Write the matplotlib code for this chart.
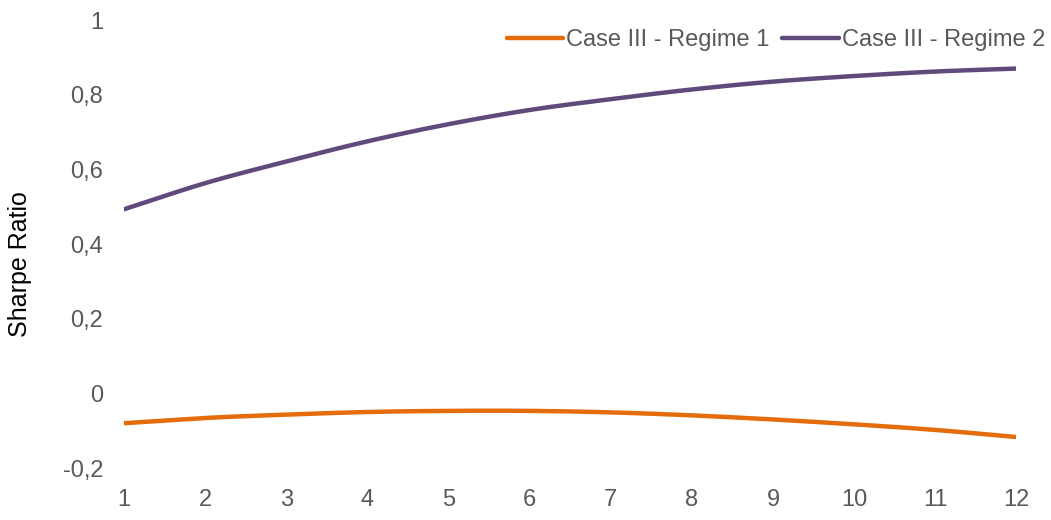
import matplotlib.pyplot as plt
import numpy as np
from matplotlib.ticker import FuncFormatter

plt.rcParams['font.family'] = ['Liberation Sans', 'DejaVu Sans']

months = np.arange(1, 13)
regime1 = [-0.080, -0.066, -0.057, -0.050, -0.047, -0.047,
           -0.051, -0.059, -0.070, -0.083, -0.098, -0.117]
regime2 = [0.493, 0.563, 0.621, 0.675, 0.721, 0.759,
           0.788, 0.814, 0.835, 0.850, 0.862, 0.870]

ORANGE = '#E46C0A'
PURPLE = '#604A7B'
GREY = '#595959'


def smooth(x, y, n=20):
    # Catmull-Rom curve through the points, like a smoothed spreadsheet line
    x = np.asarray(x, float)
    y = np.asarray(y, float)
    px = np.concatenate([[2*x[0] - x[1]], x, [2*x[-1] - x[-2]]])
    py = np.concatenate([[2*y[0] - y[1]], y, [2*y[-1] - y[-2]]])
    t = np.linspace(0, 1, n, endpoint=False)
    xs, ys = [], []
    for i in range(1, len(px) - 2):
        for p, out in ((px, xs), (py, ys)):
            p0, p1, p2, p3 = p[i-1], p[i], p[i+1], p[i+2]
            out.extend(0.5*((2*p1) + (-p0 + p2)*t
                            + (2*p0 - 5*p1 + 4*p2 - p3)*t**2
                            + (-p0 + 3*p1 - 3*p2 + p3)*t**3))
    xs.append(x[-1])
    ys.append(y[-1])
    return xs, ys


fig = plt.figure(figsize=(10.51, 5.2), dpi=100)
ax = fig.add_axes([0.118, 0.1, 0.849, 0.8615])

ax.plot(*smooth(months, regime1), color=ORANGE, lw=3.2, solid_capstyle='round',
        label='Case III - Regime 1')
ax.plot(*smooth(months, regime2), color=PURPLE, lw=3.2, solid_capstyle='round',
        label='Case III - Regime 2')

ax.set_xlim(1, 12)
ax.set_ylim(-0.2, 1)
ax.set_xticks(months)
ax.set_yticks(np.arange(-0.2, 1.01, 0.2))
ax.yaxis.set_major_formatter(FuncFormatter(
    lambda v, _: ('%g' % round(v, 1)).replace('.', ',')))
ax.tick_params(length=0, labelsize=17, colors=GREY, pad=15)
ax.tick_params(axis='x', pad=15)
for s in ax.spines.values():
    s.set_visible(False)

ax.set_ylabel('Sharpe Ratio', fontsize=18, color='black')
ax.yaxis.set_label_coords(-0.103, 0.455)

ax.legend(loc='upper right', bbox_to_anchor=(1.043, 1.0), ncol=2, frameon=False,
          fontsize=17, labelcolor=GREY, handlelength=2.4, handletextpad=0.12,
          columnspacing=0.55, borderaxespad=0)

fig.savefig('out.png', dpi=100)
